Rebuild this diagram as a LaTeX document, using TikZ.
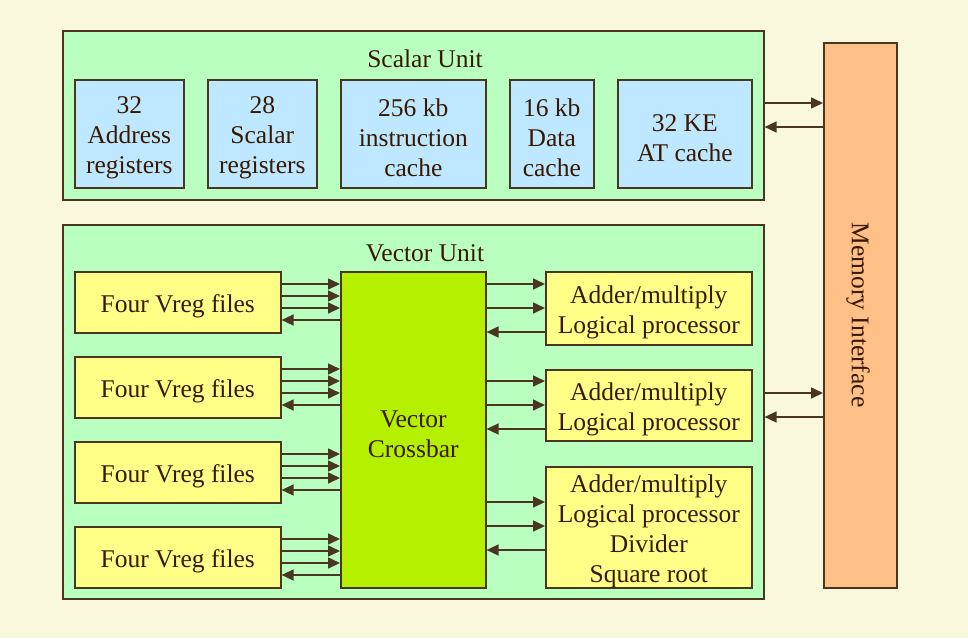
\documentclass[tikz,border=0pt]{standalone}
\usepackage{fontspec}
\setmainfont{Liberation Serif}
\usetikzlibrary{arrows.meta}
\definecolor{bg}{HTML}{FAF8DC}
\definecolor{unitg}{HTML}{B8FFC0}
\definecolor{regb}{HTML}{BDE8FF}
\definecolor{yel}{HTML}{FFFF88}
\definecolor{xbar}{HTML}{B4F000}
\definecolor{memo}{HTML}{FFC088}
\definecolor{ink}{HTML}{3A1800}
\definecolor{edge}{HTML}{4A3520}
\tikzset{
  txt/.style={text=ink, font=\fontsize{25.5}{30}\selectfont, align=center, inner sep=0pt},
  bx/.style={draw=edge, line width=1.6pt, inner sep=0pt, anchor=north west},
  unit/.style={bx, fill=unitg},
  reg/.style={bx, fill=regb},
  yb/.style={bx, fill=yel},
  arr/.style={draw=edge, line width=1.6pt, -{Triangle[length=12pt,width=11pt]}},
}
\newcommand{\boxtext}[3]{\node[txt] (#1) at ([yshift=-4pt]#2.center) {#3};}
\begin{document}
\begin{tikzpicture}[x=1pt,y=-1pt]
\useasboundingbox[fill=bg] (0,0) rectangle (968,638);
% units
\node[unit, minimum width=701, minimum height=169] (su) at (62,30) {};
\node[txt] (sut) at (425,59) {Scalar Unit};
\node[unit, minimum width=701, minimum height=374] (vu) at (62,224) {};
\node[txt] (vut) at (425,253) {Vector Unit};
% scalar registers
\node[reg, minimum width=109, minimum height=108] (r1) at (74,79) {};
\node[reg, minimum width=109, minimum height=108] (r2) at (207,79) {};
\node[reg, minimum width=145, minimum height=108] (r3) at (340,79) {};
\node[reg, minimum width=84, minimum height=108] (r4) at (509,79) {};
\node[reg, minimum width=134, minimum height=108] (r5) at (617,79) {};
\boxtext{r1t}{r1}{32\\Address\\registers}
\boxtext{r2t}{r2}{28\\Scalar\\registers}
\boxtext{r3t}{r3}{256 kb\\instruction\\cache}
\boxtext{r4t}{r4}{16 kb\\Data\\cache}
\boxtext{r5t}{r5}{32 KE\\AT cache}
% memory interface
\node[bx, fill=memo, minimum width=73, minimum height=545] (mem) at (823,42) {};
\node[txt, rotate=-90] (memt) at (858,315) {Memory Interface};
% vreg files
\node[yb, minimum width=206, minimum height=61] (v1) at (74,271) {};
\node[yb, minimum width=206, minimum height=61] (v2) at (74,356) {};
\node[yb, minimum width=206, minimum height=61] (v3) at (74,441) {};
\node[yb, minimum width=206, minimum height=61] (v4) at (74,526) {};
\boxtext{v1t}{v1}{Four Vreg files}
\boxtext{v2t}{v2}{Four Vreg files}
\boxtext{v3t}{v3}{Four Vreg files}
\boxtext{v4t}{v4}{Four Vreg files}
% crossbar
\node[bx, fill=xbar, minimum width=145, minimum height=316] (cb) at (340,271) {};
\boxtext{cbt}{cb}{Vector\\Crossbar}
% processors
\node[yb, minimum width=206, minimum height=73] (p1) at (545,271) {};
\node[yb, minimum width=206, minimum height=71] (p2) at (545,369) {};
\node[yb, minimum width=206, minimum height=121] (p3) at (545,466) {};
\boxtext{p1t}{p1}{Adder/multiply\\Logical processor}
\boxtext{p2t}{p2}{Adder/multiply\\Logical processor}
\boxtext{p3t}{p3}{Adder/multiply\\Logical processor\\Divider\\Square root}
% arrows vreg <-> crossbar
\foreach \v/\y in {v1/284, v2/369, v3/454, v4/539} {
  \draw[arr] (\v.east |- 0,\y) -- (cb.west |- 0,\y);
  \draw[arr] (\v.east |- 0,\y+12) -- (cb.west |- 0,\y+12);
  \draw[arr] (\v.east |- 0,\y+24) -- (cb.west |- 0,\y+24);
  \draw[arr] (cb.west |- 0,\y+36) -- (\v.east |- 0,\y+36);
}
% arrows crossbar <-> processors
\foreach \p/\y in {p1/284, p2/381, p3/502} {
  \draw[arr] (cb.east |- 0,\y) -- (\p.west |- 0,\y);
  \draw[arr] (cb.east |- 0,\y+24) -- (\p.west |- 0,\y+24);
  \draw[arr] (\p.west |- 0,\y+48) -- (cb.east |- 0,\y+48);
}
% memory arrows
\draw[arr] (su.east |- 0,103) -- (mem.west |- 0,103);
\draw[arr] (mem.west |- 0,127) -- (su.east |- 0,127);
\draw[arr] (vu.east |- 0,393) -- (mem.west |- 0,393);
\draw[arr] (mem.west |- 0,417) -- (vu.east |- 0,417);
\end{tikzpicture}
\end{document}
